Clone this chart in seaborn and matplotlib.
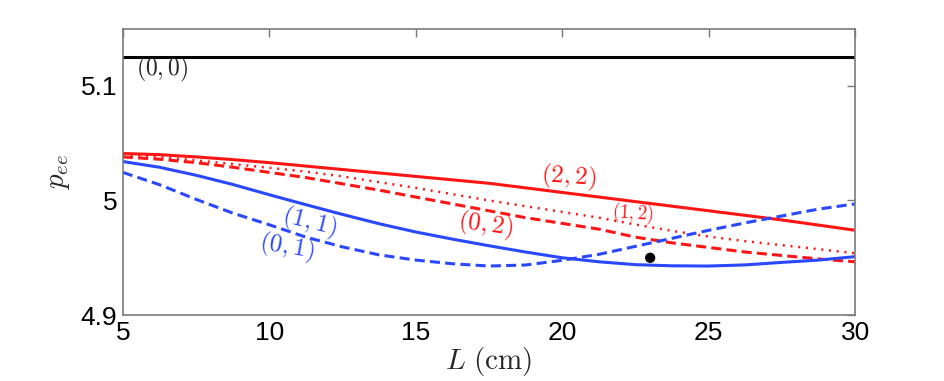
import numpy as np
import pandas as pd
import matplotlib
matplotlib.use("Agg")
import matplotlib.pyplot as plt
import seaborn as sns

# ---- values --------------------------------------------------------------
L = [5, 6.25, 7.5, 8.75, 10, 11.25, 12.5, 13.75, 15, 16.25, 17.5,
     18.75, 20, 21.25, 22.5, 23.75, 25, 26.25, 27.5, 28.75, 30]

p_00 = [5.125] * len(L)
p_22 = [5.041, 5.040, 5.038, 5.0357, 5.033, 5.030, 5.027, 5.024, 5.021, 5.018, 5.015,
        5.011, 5.007, 5.003, 4.999, 4.995, 4.991, 4.987, 4.983, 4.9785, 4.974]
p_12 = [5.040, 5.038, 5.035, 5.0318, 5.0285, 5.0252, 5.021, 5.016, 5.011, 5.0055, 5.000,
        4.995, 4.990, 4.985, 4.979, 4.9735, 4.9685, 4.9645, 4.961, 4.9575, 4.954]
p_02 = [5.038, 5.036, 5.033, 5.029, 5.0245, 5.020, 5.0145, 5.009, 5.003, 4.997, 4.991,
        4.985, 4.980, 4.975, 4.968, 4.963, 4.959, 4.955, 4.952, 4.949, 4.9465]
p_11 = [5.034, 5.029, 5.022, 5.014, 5.005, 4.9963, 4.9878, 4.9797, 4.9725, 4.9663, 4.9605,
        4.955, 4.950, 4.9465, 4.944, 4.943, 4.9428, 4.9438, 4.946, 4.948, 4.951]
p_01 = [5.0245, 5.0138, 5.001, 4.989, 4.9788, 4.968, 4.9595, 4.9525, 4.948, 4.9448, 4.9428,
        4.9437, 4.9478, 4.953, 4.960, 4.967, 4.974, 4.9805, 4.9865, 4.9925, 4.997]

dot_L, dot_p = [23.0], [4.95]

x_ticks = [5, 10, 15, 20, 25, 30]
y_ticks = [4.9, 5.0, 5.1]
y_tick_labels = ["4.9", "5", "5.1"]

RED = "#ff1414"
BLUE = "#2a48ff"

df = pd.DataFrame({"L": L, "00": p_00, "22": p_22, "12": p_12,
                   "02": p_02, "11": p_11, "01": p_01})

sns.set_style("white")
plt.rcParams.update({
    "font.family": ["Liberation Sans", "DejaVu Sans"],
    "mathtext.fontset": "cm",
    "axes.edgecolor": "#7a7a7a",
    "xtick.color": "#7a7a7a",
    "ytick.color": "#7a7a7a",
    "xtick.labelcolor": "black",
    "ytick.labelcolor": "black",
})

fig = plt.figure(figsize=(9.45, 3.81), dpi=100)
ax = fig.add_axes([0.130, 0.173, 0.775, 0.752])

styles = [
    ("00", "black", "-", 2.2),
    ("22", RED, "-", 2.2),
    ("12", RED, (0, (0.8, 2.3)), 1.8),
    ("02", RED, (0, (3.3, 1.7)), 2.2),
    ("11", BLUE, "-", 2.2),
    ("01", BLUE, (0, (3.3, 1.7)), 2.2),
]
for col, c, ls, lw in styles:
    sns.lineplot(data=df, x="L", y=col, color=c, linestyle=ls, lw=lw, ax=ax)

sns.scatterplot(x=dot_L, y=dot_p, color="black", s=55, edgecolor="none", ax=ax, zorder=5)

# ---- curve labels ---------------------------------------------------------
ax.text(5.45, 5.114, "$(0,0)$", fontsize=17, ha="left", va="center")
ax.text(20.2, 5.0205, "$(2,2)$", fontsize=18, color=RED, ha="center", va="center", rotation=-4)
ax.text(22.4, 4.989, "$(1,2)$", fontsize=13.5, color=RED, ha="center", va="center", rotation=-4)
ax.text(17.36, 4.978, "$(0,2)$", fontsize=18, color=RED, ha="center", va="center", rotation=-8)
ax.text(11.35, 4.981, "$(1,1)$", fontsize=18, color=BLUE, ha="center", va="center", rotation=-14)
ax.text(10.6, 4.959, "$(0,1)$", fontsize=18, color=BLUE, ha="center", va="center", rotation=-10)

ax.set_xlim(5, 30)
ax.set_ylim(4.9, 5.15)
ax.set_xticks(x_ticks)
ax.set_yticks(y_ticks)
ax.set_yticklabels(y_tick_labels)
ax.tick_params(direction="in", length=6, width=1, top=True, right=True,
               labelsize=19, pad=4)
for s in ax.spines.values():
    s.set_linewidth(1.2)

ax.set_xlabel(r"$L\ (\mathrm{cm})$", fontsize=21, labelpad=0)
ax.set_ylabel(r"$p_{ee}$", fontsize=21, labelpad=6)

fig.savefig("out.png", dpi=100)
